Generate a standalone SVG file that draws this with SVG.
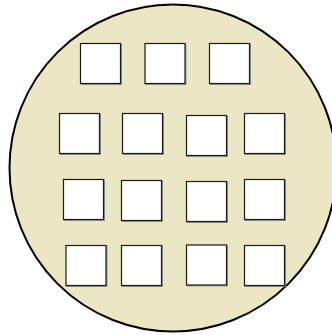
<svg xmlns="http://www.w3.org/2000/svg" width="332" height="335" viewBox="0 0 332 335">
<style>
.sq{fill:#fff;stroke:#1a1a1a;stroke-width:1.2}
.sh{fill:none;stroke:#8a8a80;stroke-width:1.2}
</style>
<rect width="332" height="335" fill="#fff"/>
<g id="plate">
<circle cx="173" cy="168" r="163.5" fill="#ebe6c3" stroke="#000" stroke-width="2"/>
</g>
<g id="wells">
<g id="r1c1"><rect class="sh" x="81.3" y="44.3" width="40" height="40"/><rect class="sq" x="80.5" y="43.5" width="40" height="40"/></g>
<g id="r1c2"><rect class="sh" x="145.8" y="44.3" width="40" height="40"/><rect class="sq" x="145" y="43.5" width="40" height="40"/></g>
<g id="r1c3"><rect class="sh" x="210.3" y="44.3" width="40" height="40"/><rect class="sq" x="209.5" y="43.5" width="40" height="40"/></g>
<g id="r2c1"><rect class="sh" x="60.3" y="114.3" width="40" height="40"/><rect class="sq" x="59.5" y="113.5" width="40" height="40"/></g>
<g id="r2c2"><rect class="sh" x="123.3" y="114.3" width="40" height="40"/><rect class="sq" x="122.5" y="113.5" width="40" height="40"/></g>
<g id="r2c3"><rect class="sh" x="187.3" y="116.3" width="40" height="40"/><rect class="sq" x="186.5" y="115.5" width="40" height="40"/></g>
<g id="r2c4"><rect class="sh" x="245.3" y="114.3" width="40" height="40"/><rect class="sq" x="244.5" y="113.5" width="40" height="40"/></g>
<g id="r3c1"><rect class="sh" x="64.3" y="180.3" width="40" height="40"/><rect class="sq" x="63.5" y="179.5" width="40" height="40"/></g>
<g id="r3c2"><rect class="sh" x="122.3" y="181.3" width="40" height="40"/><rect class="sq" x="121.5" y="180.5" width="40" height="40"/></g>
<g id="r3c3"><rect class="sh" x="187.3" y="182.3" width="40" height="40"/><rect class="sq" x="186.5" y="181.5" width="40" height="40"/></g>
<g id="r3c4"><rect class="sh" x="245.3" y="180.3" width="40" height="40"/><rect class="sq" x="244.5" y="179.5" width="40" height="40"/></g>
<g id="r4c1"><rect class="sh" x="66.8" y="246.3" width="40" height="40"/><rect class="sq" x="66" y="245.5" width="40" height="40"/></g>
<g id="r4c2"><rect class="sh" x="122.3" y="246.3" width="40" height="40"/><rect class="sq" x="121.5" y="245.5" width="40" height="40"/></g>
<g id="r4c3"><rect class="sh" x="187.3" y="245.8" width="40" height="40"/><rect class="sq" x="186.5" y="245" width="40" height="40"/></g>
<g id="r4c4"><rect class="sh" x="245.3" y="246.3" width="40" height="40"/><rect class="sq" x="244.5" y="245.5" width="40" height="40"/></g>
</g>
</svg>
